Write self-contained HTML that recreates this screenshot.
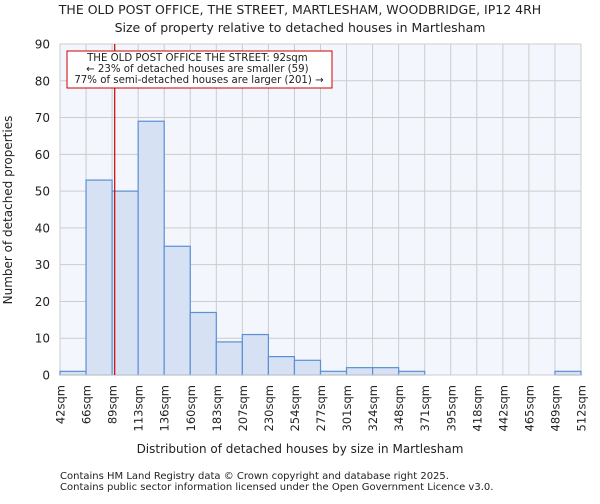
<!DOCTYPE html>
<html><head><meta charset="utf-8"><style>
body{margin:0;background:#fff;font-family:"DejaVu Sans","Liberation Sans",sans-serif;}
svg text{font-family:"DejaVu Sans","Liberation Sans",sans-serif;fill:#222;}
</style></head><body>
<svg id="chart" width="600" height="500" xmlns="http://www.w3.org/2000/svg">
<text x="300" y="14" font-size="12.5" text-anchor="middle">THE OLD POST OFFICE, THE STREET, MARTLESHAM, WOODBRIDGE, IP12 4RH</text>
<text x="300" y="32" font-size="12.5" text-anchor="middle">Size of property relative to detached houses in Martlesham</text>
<rect x="60" y="44" width="521" height="331" fill="#f3f6fc"/>
<g id="grid"></g><g id="bars"></g><g id="axes"></g>
<line id="marker" y1="44" y2="375" stroke="#cc0000" stroke-width="1.2"/>
<rect x="67" y="51" width="265" height="37" fill="#fff" stroke="#cc0000" stroke-width="1"/>
<text font-size="10.2" text-anchor="middle">
<tspan x="199" y="61">THE OLD POST OFFICE THE STREET: 92sqm</tspan>
<tspan x="199" y="72">← 23% of detached houses are smaller (59)</tspan>
<tspan x="199" y="83">77% of semi-detached houses are larger (201) →</tspan></text>
<text transform="translate(12,210) rotate(-90)" font-size="12" text-anchor="middle">Number of detached properties</text>
<text x="300" y="453" font-size="12" text-anchor="middle">Distribution of detached houses by size in Martlesham</text>
<text x="60" y="479" font-size="10">Contains HM Land Registry data © Crown copyright and database right 2025.</text>
<text x="60" y="490" font-size="10">Contains public sector information licensed under the Open Government Licence v3.0.</text>
</svg>
<script>
const binLabels=["42sqm","66sqm","89sqm","113sqm","136sqm","160sqm","183sqm","207sqm","230sqm","254sqm","277sqm","301sqm","324sqm","348sqm","371sqm","395sqm","418sqm","442sqm","465sqm","489sqm","512sqm"];
const counts=[1,53,50,69,35,17,9,11,5,4,1,2,2,1,0,0,0,0,0,1];
const yTicks=[0,10,20,30,40,50,60,70,80,90];
const markerBin=2.1;
const NS="http://www.w3.org/2000/svg";
const x0=60,x1=581,yb=375,yt=44,yMax=90;
const xs=i=>x0+i*(x1-x0)/counts.length;
const ys=v=>yb-v*(yb-yt)/yMax;
function mk(p,t,a){const e=document.createElementNS(NS,t);for(const k in a)e.setAttribute(k,a[k]);p.appendChild(e);return e;}
const grid=document.getElementById('grid'),bars=document.getElementById('bars'),axes=document.getElementById('axes');
yTicks.forEach(v=>{
 const l=mk(grid,'line',{x1:x0,x2:x1,y1:ys(v),y2:ys(v),stroke:'#cccccc','stroke-width':1});
 
 
 const t=mk(axes,'text',{x:50,y:ys(v)+4.5,'font-size':12,'text-anchor':'end'});t.textContent=v;
 
 
});
binLabels.forEach((s,i)=>{
 const l=mk(grid,'line',{x1:xs(i),x2:xs(i),y1:yt,y2:yb,stroke:'#cccccc','stroke-width':1});
 
 
 const t=mk(axes,'text',{transform:`translate(${xs(i)+4.5},${yb+10}) rotate(-90)`,'font-size':11.5,'text-anchor':'end'});t.textContent=s;
 
 
});
counts.forEach((c,i)=>{
 if(c<=0)return;
 const r=mk(bars,'rect',{x:xs(i),y:ys(c),width:xs(i+1)-xs(i),height:yb-ys(c),fill:'#d6e2f3',stroke:'#5b8fd6','stroke-width':1.2});
 
 
});
mk(axes,'line',{x1:x0,x2:x1,y1:yb,y2:yb,stroke:'#cccccc','stroke-width':1});
const m=document.getElementById('marker');m.setAttribute('x1',xs(markerBin));m.setAttribute('x2',xs(markerBin));
</script>
</body></html>
